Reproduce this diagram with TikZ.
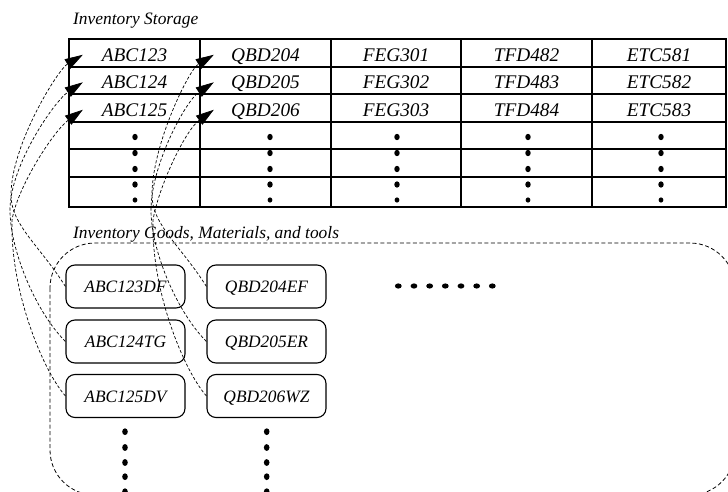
\documentclass[tikz,border=0pt]{standalone}
\usepackage{fontspec}
\setmainfont{Liberation Serif}
\usetikzlibrary{arrows.meta}
\begin{document}
\begin{tikzpicture}[x=1bp,y=-1bp,
  cell/.style={minimum width=131bp, minimum height=27.5bp, inner sep=0pt,
    text height=12.8bp, text depth=0pt,
    font=\fontsize{19.3bp}{22bp}\selectfont\itshape},
  item/.style={draw, line width=1.1bp, rounded corners=9bp, minimum width=119bp,
    minimum height=43bp, inner sep=0pt, fill=white, text height=12.6bp, text depth=0pt,
    font=\fontsize{17.4bp}{20bp}\selectfont\itshape},
  title/.style={anchor=base west, inner sep=0pt,
    font=\fontsize{17.4bp}{20bp}\selectfont\itshape},
  grid/.style={line width=1.2bp},
  link/.style={line width=0.7bp, dash pattern=on 3bp off 2bp,
    -{Triangle[length=18bp,width=11bp]}},
  container/.style={line width=0.8bp, dash pattern=on 4bp off 2.5bp, rounded corners=45bp}
]
\useasboundingbox (0,0) rectangle (728,492);

% titles
\node[title] (t1) at (73,25) {Inventory Storage};
\node[title] (t2) at (73,239) {Inventory Goods, Materials, and tools};

% table grid
\draw[grid] (69,39) rectangle (726,207);
\foreach \y in {67,94,122,149,177} \draw[grid] (69,\y) -- (726,\y);
\foreach \x in {200,331,461,592} \draw[grid] (\x,39) -- (\x,207);

% table cells
\foreach \c/\x/\p/\a in {A/134.5/ABC/123, Q/265.5/QBD/204, F/396/FEG/301, T/526.5/TFD/482, E/659/ETC/581}{
  \pgfmathtruncatemacro{\b}{\a+1}
  \pgfmathtruncatemacro{\d}{\a+2}
  \node[cell] (c\c1) at (\x,54.8) {\p\a};
  \node[cell] (c\c2) at (\x,82.3) {\p\b};
  \node[cell] (c\c3) at (\x,109.8) {\p\d};
}

% table dots
\foreach \x in {135,270,397,528,661}{
  \foreach \y in {137,153,169,184.5}{\fill (\x,\y) ellipse [x radius=2.7bp, y radius=3.2bp];}
  \fill (\x,200) ellipse [x radius=2.4bp, y radius=2.6bp];
}

% goods container
\begin{scope}
\clip (0,0) rectangle (728,492);
\draw[container] (50,243) rectangle (735,495);
\end{scope}

% items
\node[item] (bA1) at (125.5,286.5) {ABC123DF};
\node[item] (bA2) at (125.5,341.5) {ABC124TG};
\node[item] (bA3) at (125.5,396) {ABC125DV};
\node[item] (bQ1) at (266.5,286.5) {QBD204EF};
\node[item] (bQ2) at (266.5,341.5) {QBD205ER};
\node[item] (bQ3) at (266.5,396) {QBD206WZ};

% item dots
\foreach \x in {125,266.7}{
  \foreach \y in {431.7,447.5,462.5,476.7,491.7}{\fill (\x,\y) ellipse [x radius=2.8bp, y radius=3.4bp];}
}
\foreach \i in {0,...,6}{\fill ({398.3+15.67*\i},286) ellipse [x radius=3.4bp, y radius=2.6bp];}

% links
\foreach \c/\dx in {A/0,Q/141}{
  \draw[link] (b\c1.west) .. controls +(-25,-40) and +(0,30) .. ({11+\dx},195)
     .. controls +(0,-50) and +(-25,15) .. ([xshift=14bp]c\c1.west);
  \draw[link] (b\c2.west) .. controls +(-30,-30) and +(0,40) .. ({10+\dx},210)
     .. controls +(0,-45) and +(-28,18.5) .. ([xshift=14bp]c\c2.west);
  \draw[link] (b\c3.west) .. controls +(-23,-26) and +(-2,70) .. ({12+\dx},220)
     .. controls +(6,-35) and +(-28,20) .. ([xshift=14bp]c\c3.west);
}
\end{tikzpicture}
\end{document}
